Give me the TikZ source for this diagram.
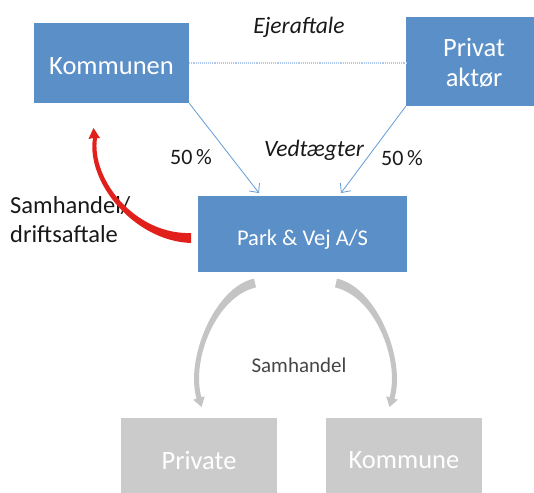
\documentclass[tikz,border=0pt]{standalone}
\usepackage{fontspec}
\setmainfont{Carlito}
\usetikzlibrary{arrows.meta,calc}
\definecolor{boxblue}{RGB}{91,143,200}
\definecolor{boxgrey}{RGB}{203,203,203}
\definecolor{arrowgrey}{RGB}{196,196,196}
\definecolor{lineblue}{RGB}{100,155,215}
\definecolor{dotblue}{RGB}{175,200,235}
\definecolor{redarrow}{RGB}{225,32,27}
\definecolor{labeltext}{RGB}{25,25,25}
\definecolor{greytext}{RGB}{70,70,70}
\newcommand{\lowertext}[2]{\raisebox{-#1}[\height][\depth]{#2}}
\begin{document}
\begin{tikzpicture}[x=1pt,y=-1pt,
  boxbase/.style={rectangle, inner sep=0pt, align=center},
  bluebox/.style={boxbase, fill=boxblue, text=white},
  greybox/.style={boxbase, fill=boxgrey, text=white},
  bigtext/.style={font=\fontsize{26.5}{32}\selectfont},
  lbl/.style={text=labeltext, font=\fontsize{23.5}{29}\selectfont, inner sep=0pt},
  ownarrow/.style={draw=lineblue, line width=0.8pt, -{Straight Barb[length=7pt,width=13pt]}}
]
\useasboundingbox (0,0) rectangle (534,492);

% boxes
\node[bluebox, bigtext, minimum width=155pt, minimum height=80pt] (komm) at (111.5,63) {\lowertext{3pt}{Kommunen}};
\node[bluebox, bigtext, minimum width=136pt, minimum height=89pt] (priv) at (474,61.5) {\lowertext{4pt}{\begin{tabular}{@{}c@{}}Privat\\[-2pt]akt\o r\end{tabular}}};
\node[bluebox, font=\fontsize{22.5}{27}\selectfont, minimum width=209pt, minimum height=76pt] (park) at (302.5,234) {\lowertext{6pt}{Park \& Vej A/S}};
\node[greybox, bigtext, minimum width=156pt, minimum height=84pt] (privat) at (199,460) {Private};
\node[greybox, bigtext, minimum width=156pt, minimum height=84pt] (kommune) at (404,460) {Kommune};

% labels
\node[lbl, font=\fontsize{23.5}{29}\selectfont\itshape] (ejer) at (299,27) {Ejeraftale};
\node[lbl, font=\fontsize{23.5}{29}\selectfont\itshape] (vedt) at (314,150) {Vedt\ae gter};
\node[lbl, font=\fontsize{22}{27}\selectfont] (pa) at (191,157) {50\,\%};
\node[lbl, font=\fontsize{22}{27}\selectfont] (pb) at (402,158) {50\,\%};
\node[lbl, font=\fontsize{24.5}{29}\selectfont, align=left, anchor=west] (sd) at (10,220) {Samhandel/\\driftsaftale};
\node[text=greytext, font=\fontsize{21}{25}\selectfont, inner sep=0pt] (samh) at (299,365) {Samhandel};

% connectors
\draw[dotblue, line width=1.1pt, densely dotted] (komm.east) -- (komm.east -| priv.west);
\coordinate (ta) at (259,193);
\coordinate (tb) at (341,193);
\draw[ownarrow] (komm.south east) -- (ta);
\draw[ownarrow] (priv.south west) -- (tb);

% red tapered arrow (park -> kommunen)
\fill[redarrow] (191,243) .. controls (134,241) and (86,182) .. (93,138)
  -- (88.5,139) -- (93.5,128) -- (100,138) -- (97,138)
  .. controls (91,180) and (136,235) .. (191,233) -- cycle;

% grey tapered arrows (park -> private / kommune)
\fill[arrowgrey] (254,278.6) .. controls (214,287.5) and (185,360) .. (196.6,398.7)
  -- (193.2,399.7) -- (201.5,407) -- (204.8,396.3) -- (201.4,397.3)
  .. controls (191,360) and (216,296.5) .. (256,287.4) -- cycle;
\begin{scope}[xshift=591pt, xscale=-1]
\fill[arrowgrey] (254,278.6) .. controls (214,287.5) and (185,360) .. (196.6,398.7)
  -- (193.2,399.7) -- (201.5,407) -- (204.8,396.3) -- (201.4,397.3)
  .. controls (191,360) and (216,296.5) .. (256,287.4) -- cycle;
\end{scope}
\end{tikzpicture}
\end{document}
